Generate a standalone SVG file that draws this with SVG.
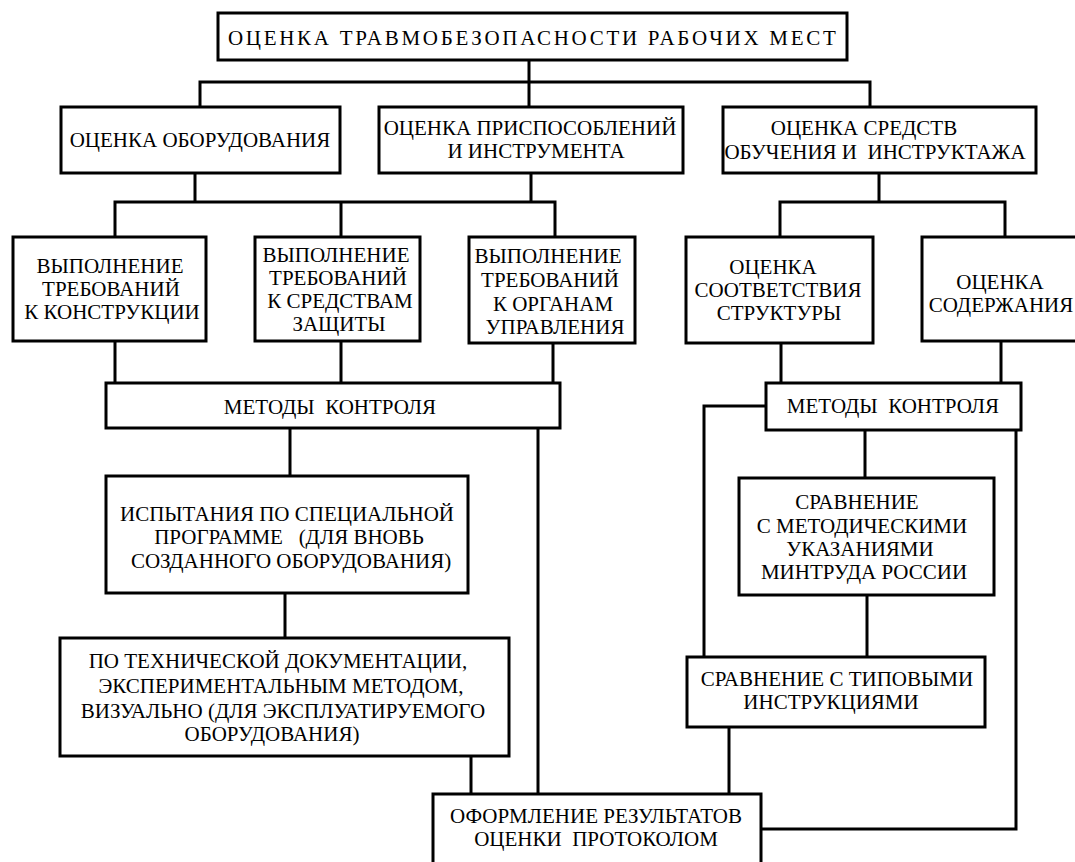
<svg xmlns="http://www.w3.org/2000/svg" width="1075" height="862" viewBox="0 0 1075 862">
<style>
.box{fill:#fff;stroke:#000;stroke-width:3}
.ln{fill:none;stroke:#000;stroke-width:3;stroke-linecap:square;stroke-linejoin:miter}
text{font-size:21px;fill:#000;text-anchor:middle;white-space:pre}
.title{text-anchor:start;letter-spacing:2.7px}
</style>
<rect width="1075" height="862" fill="#fff"/>
<g id="connectors">
<path class="ln" d="M529 60V82M200 107V82H870V107M529 82V107"/>
<path class="ln" d="M195 173V202M115 237V202H555V237M341 202V237M531 173V202"/>
<path class="ln" d="M879 173V202M780 237V202H1005V237"/>
<path class="ln" d="M115 341V383M341 341V383M553 343V383"/>
<path class="ln" d="M781 343V383M1001 341V383"/>
<path class="ln" d="M290 428V476M285 593V638M471 756V794"/>
<path class="ln" d="M538 428V794"/>
<path class="ln" d="M865 430V478M867 595V657"/>
<path class="ln" d="M766 406H704V657"/>
<path class="ln" d="M729 727V794"/>
<path class="ln" d="M1016 430V829H761"/>
</g>
<g font-family="'Liberation Serif', 'Times New Roman', 'DejaVu Serif', serif">
<g id="n-title">
<rect class="box" x="218" y="13" width="629" height="47"/>
<text class="title" x="228" y="45">ОЦЕНКА ТРАВМОБЕЗОПАСНОСТИ РАБОЧИХ МЕСТ</text>
</g>
<g id="n-equip">
<rect class="box" x="61" y="107" width="279" height="66"/>
<text x="200" y="147">ОЦЕНКА ОБОРУДОВАНИЯ</text>
</g>
<g id="n-tools">
<rect class="box" x="379" y="107" width="304" height="66"/>
<text x="530" y="135">ОЦЕНКА ПРИСПОСОБЛЕНИЙ</text>
<text x="536" y="158">И ИНСТРУМЕНТА</text>
</g>
<g id="n-training">
<rect class="box" x="723" y="107" width="313" height="66"/>
<text x="864" y="135">ОЦЕНКА СРЕДСТВ</text>
<text x="875" y="159">ОБУЧЕНИЯ И  ИНСТРУКТАЖА</text>
</g>
<g id="n-construct">
<rect class="box" x="13" y="237" width="193" height="104"/>
<text x="110" y="273">ВЫПОЛНЕНИЕ</text>
<text x="111" y="296">ТРЕБОВАНИЙ</text>
<text x="112" y="319">К КОНСТРУКЦИИ</text>
</g>
<g id="n-protect">
<rect class="box" x="255" y="237" width="165" height="104"/>
<text x="336" y="262">ВЫПОЛНЕНИЕ</text>
<text x="338" y="285">ТРЕБОВАНИЙ</text>
<text x="340" y="308">К СРЕДСТВАМ</text>
<text x="339" y="331">ЗАЩИТЫ</text>
</g>
<g id="n-controls">
<rect class="box" x="469" y="237" width="166" height="106"/>
<text x="548" y="263">ВЫПОЛНЕНИЕ</text>
<text x="550" y="287">ТРЕБОВАНИЙ</text>
<text x="553" y="311">К ОРГАНАМ</text>
<text x="555" y="334">УПРАВЛЕНИЯ</text>
</g>
<g id="n-structure">
<rect class="box" x="686" y="237" width="187" height="106"/>
<text x="773" y="274">ОЦЕНКА</text>
<text x="778" y="297">СООТВЕТСТВИЯ</text>
<text x="779" y="320">СТРУКТУРЫ</text>
</g>
<g id="n-content">
<rect class="box" x="922" y="237" width="160" height="104"/>
<text x="1000" y="289">ОЦЕНКА</text>
<text x="1001" y="312">СОДЕРЖАНИЯ</text>
</g>
<g id="n-methods-left">
<rect class="box" x="106" y="383" width="454" height="45"/>
<text x="330" y="414">МЕТОДЫ  КОНТРОЛЯ</text>
</g>
<g id="n-methods-right">
<rect class="box" x="766" y="383" width="255" height="47"/>
<text x="893" y="413">МЕТОДЫ  КОНТРОЛЯ</text>
</g>
<g id="n-tests">
<rect class="box" x="106" y="476" width="362" height="117"/>
<text x="287" y="521">ИСПЫТАНИЯ ПО СПЕЦИАЛЬНОЙ</text>
<text x="289" y="544">ПРОГРАММЕ   (ДЛЯ ВНОВЬ</text>
<text x="291" y="568">СОЗДАННОГО ОБОРУДОВАНИЯ)</text>
</g>
<g id="n-docs">
<rect class="box" x="60" y="638" width="449" height="118"/>
<text x="278" y="668">ПО ТЕХНИЧЕСКОЙ ДОКУМЕНТАЦИИ,</text>
<text x="281" y="693">ЭКСПЕРИМЕНТАЛЬНЫМ МЕТОДОМ,</text>
<text x="283" y="718">ВИЗУАЛЬНО (ДЛЯ ЭКСПЛУАТИРУЕМОГО</text>
<text x="272" y="741">ОБОРУДОВАНИЯ)</text>
</g>
<g id="n-guidelines">
<rect class="box" x="739" y="478" width="255" height="117"/>
<text x="857" y="509">СРАВНЕНИЕ</text>
<text x="862" y="533">С МЕТОДИЧЕСКИМИ</text>
<text x="860" y="556">УКАЗАНИЯМИ</text>
<text x="864" y="579">МИНТРУДА РОССИИ</text>
</g>
<g id="n-typical">
<rect class="box" x="687" y="657" width="298" height="70"/>
<text x="837" y="686">СРАВНЕНИЕ С ТИПОВЫМИ</text>
<text x="831" y="709">ИНСТРУКЦИЯМИ</text>
</g>
<g id="n-report">
<rect class="box" x="433" y="794" width="328" height="75"/>
<text x="596" y="823">ОФОРМЛЕНИЕ РЕЗУЛЬТАТОВ</text>
<text x="596" y="846">ОЦЕНКИ  ПРОТОКОЛОМ</text>
</g>
</g>
</svg>
